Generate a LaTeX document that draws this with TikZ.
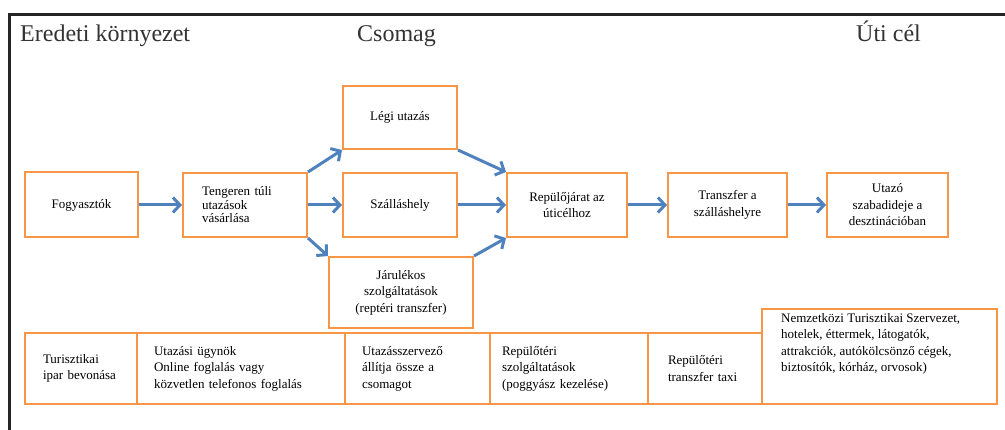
\documentclass[tikz,border=0pt]{standalone}
\usepackage{fontspec}
\setmainfont{Liberation Serif}
\usetikzlibrary{arrows.meta}
\definecolor{boxorange}{RGB}{247,150,70}
\definecolor{flowblue}{RGB}{79,129,189}

\begin{document}
\begin{tikzpicture}[x=1pt,y=-1pt,
        box/.style={draw=boxorange,line width=2pt,inner sep=0pt,align=center,
                font=\fontsize{13}{16.5}\selectfont},
        cell/.style={box,align=left,minimum height=71pt},
        flow/.style={draw=flowblue,line width=3pt,-{Straight Barb[length=7pt,width=15pt,line width=3pt]}},
        heading/.style={anchor=base west,inner sep=0pt,font=\fontsize{24}{28}\selectfont,text=black!80}]
        \useasboundingbox (0,0) rectangle (1005,430);

        \draw[line width=3pt,black!85] (9.5,430) -- (9.5,14.5) -- (1005,14.5);

        \node[heading] (orig) at (20,42) {Eredeti környezet};
        \node[heading] (pack) at (357,42) {Csomag};
        \node[heading] (dest) at (856,42) {Úti cél};

        \node[box,minimum width=113pt,minimum height=65pt] (fogy) at (81.5,205) {Fogyasztók};
        \node[box,minimum width=124pt,minimum height=64pt,text width=86pt,align=left,
                font=\fontsize{13}{13.5}\selectfont] (teng) at (245,205) {Tengeren túli\\utazások\\vásárlása};
        \node[box,minimum width=114pt,minimum height=63pt] (legi) at (400,117.5) {Légi utazás};
        \node[box,minimum width=114pt,minimum height=64pt] (szall) at (400,205) {Szálláshely};
        \node[box,minimum width=144pt,minimum height=71pt] (jarul) at (401,292.5) {Járulékos\\szolgáltatások\\(reptéri transzfer)};
        \node[box,minimum width=120pt,minimum height=64pt] (repul) at (567,205) {Repülőjárat az\\úticélhoz};
        \node[box,minimum width=119pt,minimum height=64pt] (transz) at (727.5,205) {Transzfer a\\szálláshelyre};
        \node[box,minimum width=121pt,minimum height=64pt] (utazo) at (887.5,205) {Utazó\\szabadideje a\\desztinációban};

        \draw[flow] (fogy) -- (teng);
        \draw[flow] (teng.north east) -- (legi.south west);
        \draw[flow] (teng) -- (szall);
        \draw[flow] (teng.south east) -- (jarul.north west);
        \draw[flow] (legi.south east) -- (repul.north west);
        \draw[flow] (szall) -- (repul);
        \draw[flow] (jarul.north east) -- (repul.south west);
        \draw[flow] (repul) -- (transz);
        \draw[flow] (transz) -- (utazo);

        \node[cell,minimum width=112pt,text width=76pt] (ipar) at (81,368.5) {Turisztikai\\ipar bevonása};
        \node[cell,minimum width=208pt,text width=174pt] (ugyn) at (241,368.5) {Utazási ügynök\\Online foglalás vagy\\közvetlen telefonos foglalás};
        \node[cell,minimum width=145pt,text width=111pt] (szerv) at (417.5,368.5) {Utazásszervező\\állítja össze a\\csomagot};
        \node[cell,minimum width=158pt,text width=134pt] (reptsz) at (569,368.5) {Repülőtéri\\szolgáltatások\\(poggyász kezelése)};
        \node[cell,minimum width=114pt,text width=74pt] (taxi) at (705,368.5) {Repülőtéri\\transzfer taxi};
        \node[cell,minimum width=235pt,minimum height=95pt] (szolg) at (879.5,356.5) {};
        \node[anchor=north west,inner sep=0pt,align=left,font=\fontsize{13}{16.5}\selectfont] (szolgtxt) at (781,313)
                {Nemzetközi Turisztikai Szervezet,\\hotelek, éttermek, látogatók,\\attrakciók, autókölcsönző cégek,\\biztosítók, kórház, orvosok)};
\end{tikzpicture}
\end{document}
